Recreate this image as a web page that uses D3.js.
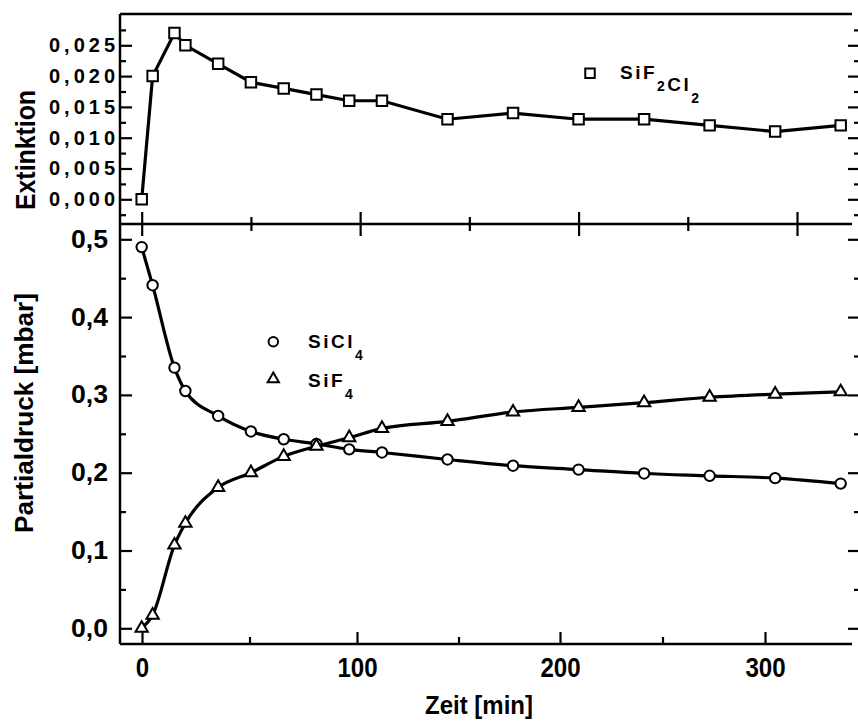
<!DOCTYPE html>
<html>
<head>
<meta charset="utf-8">
<script src="https://cdn.jsdelivr.net/npm/d3@7"></script>
<style>
  body { margin: 0; background: white; }
  text { font-family: "Liberation Sans", Arial, sans-serif; font-weight: bold; fill: black; }
</style>
</head>
<body>
<script>
const times   = [0, 5, 15, 20, 35, 50, 65, 80, 95, 110, 140, 170, 200, 230, 260, 290, 320]
const sif2cl2 = [0, 0.020, 0.027, 0.025, 0.022, 0.019, 0.018, 0.017, 0.016, 0.016, 0.013, 0.014, 0.013, 0.013, 0.012, 0.011, 0.012]
const sicl4   = [0.490, 0.441, 0.335, 0.305, 0.273, 0.253, 0.243, 0.237, 0.230, 0.226, 0.217, 0.209, 0.204, 0.199, 0.196, 0.193, 0.186]
const sif4    = [0.000, 0.017, 0.107, 0.135, 0.181, 0.200, 0.221, 0.234, 0.245, 0.257, 0.266, 0.278, 0.284, 0.290, 0.297, 0.301, 0.304]

const extTicks  = [0, 0.005, 0.010, 0.015, 0.020, 0.025]
const extMinor  = [-0.0025, 0.0025, 0.0075, 0.0125, 0.0175, 0.0225, 0.0275]
const pTicks    = [0, 0.1, 0.2, 0.3, 0.4, 0.5]
const pMinor    = [0.05, 0.15, 0.25, 0.35, 0.45]
const timeTicks = [0, 100, 200, 300]
const timeMinor = [50, 150, 250]
const midTicks  = [0, 50, 100, 150, 200, 250, 300]

const [width, height] = [858, 721]
const frame = { left: 120, right: 852, top: 14, mid: 224, bottom: 644 }

const de = d3.formatLocale({ decimal: ",", thousands: ".", grouping: [3], currency: ["", " €"] })

// Skalen
const x = d3.scaleLinear().domain([0, 300]).range([141.7, 797])
const xAxisScale = d3.scaleLinear().domain([0, 100, 200, 300]).range([142, 357, 560, 765]) // untere Achse wie im Original
const yExt = d3.scaleLinear().domain([0, 0.025]).range([199.3, 45.3])
const yP = d3.scaleLinear().domain([0, 0.5]).range([628.3, 239.3])

const svg = d3.select("body").append("svg")
    .attr("width", width)
    .attr("height", height)

// Rahmen
const frameG = svg.append("g").attr("stroke", "black").attr("stroke-width", 2.5)
frameG.append("line").attr("x1", frame.left).attr("x2", frame.left).attr("y1", frame.top).attr("y2", frame.bottom)
;[frame.top, frame.mid, frame.bottom].forEach(y => {
    frameG.append("line").attr("x1", frame.left).attr("x2", frame.right).attr("y1", y).attr("y2", y)
})

function styleAxis(g) {
    g.select(".domain").remove()
    g.selectAll(".tick line").attr("stroke", "black").attr("stroke-width", 2.2)
}

// linke Achse oben (Extinktion)
svg.append("g").attr("transform", `translate(${frame.left},0)`)
    .call(d3.axisLeft(yExt).tickValues(extTicks).tickSizeInner(-12).tickSizeOuter(0).tickPadding(5)
        .tickFormat(de.format(".3f")))
    .call(styleAxis)
    .selectAll("text")
        .attr("font-size", 20)
        .attr("textLength", 66)
        .attr("lengthAdjust", "spacing")
svg.append("g").attr("transform", `translate(${frame.left},0)`)
    .call(d3.axisLeft(yExt).tickValues(extMinor).tickSize(-6).tickFormat(""))
    .call(styleAxis)

// linke Achse unten (Partialdruck)
svg.append("g").attr("transform", `translate(${frame.left},0)`)
    .call(d3.axisLeft(yP).tickValues(pTicks).tickSizeInner(-12).tickSizeOuter(0).tickPadding(12)
        .tickFormat(de.format(".1f")))
    .call(styleAxis)
    .selectAll("text")
        .attr("font-size", 25)
        .attr("textLength", 37)
        .attr("lengthAdjust", "spacingAndGlyphs")
svg.append("g").attr("transform", `translate(${frame.left},0)`)
    .call(d3.axisLeft(yP).tickValues(pMinor).tickSize(-6).tickFormat(""))
    .call(styleAxis)

// rechte Seite: nur Ticks
;[[yExt, extTicks, extMinor], [yP, pTicks, pMinor]].forEach(([s, major, minor]) => {
    svg.append("g").attr("transform", `translate(${width},0)`)
        .call(d3.axisRight(s).tickValues(major).tickSize(-10).tickFormat(""))
        .call(styleAxis)
    svg.append("g").attr("transform", `translate(${width},0)`)
        .call(d3.axisRight(s).tickValues(minor).tickSize(-4).tickFormat(""))
        .call(styleAxis)
})

// Trennlinie: Ticks nach oben und unten
svg.append("g").attr("transform", `translate(0,${frame.mid})`)
    .call(d3.axisTop(x).tickValues(midTicks).tickSize(12).tickFormat(""))
    .call(styleAxis)
    .selectAll(".tick line").attr("y2", d => d % 100 === 0 ? -12 : -7)
svg.append("g").attr("transform", `translate(0,${frame.mid})`)
    .call(d3.axisBottom(x).tickValues(midTicks).tickSize(12).tickFormat(""))
    .call(styleAxis)
    .selectAll(".tick line").attr("y2", d => d % 100 === 0 ? 12 : 7)

// untere Zeitachse
svg.append("g").attr("transform", `translate(0,${frame.bottom})`)
    .call(d3.axisBottom(xAxisScale).tickValues(timeTicks).tickSizeInner(-12).tickSizeOuter(0).tickPadding(14))
    .call(styleAxis)
    .selectAll("text")
        .attr("font-size", 27)
        .attr("textLength", d => String(d).length * 13.4)
        .attr("lengthAdjust", "spacingAndGlyphs")
svg.append("g").attr("transform", `translate(0,${frame.bottom})`)
    .call(d3.axisBottom(xAxisScale).tickValues(timeMinor).tickSize(-7).tickFormat(""))
    .call(styleAxis)

// Achsentitel
svg.append("text")
    .attr("transform", "translate(35,150) rotate(-90)")
    .attr("text-anchor", "middle")
    .attr("font-size", 28)
    .attr("textLength", 120)
    .attr("lengthAdjust", "spacingAndGlyphs")
    .text("Extinktion")
svg.append("text")
    .attr("transform", "translate(33,413) rotate(-90)")
    .attr("text-anchor", "middle")
    .attr("font-size", 26)
    .attr("textLength", 240)
    .attr("lengthAdjust", "spacingAndGlyphs")
    .text("Partialdruck [mbar]")
svg.append("text")
    .attr("x", 479)
    .attr("y", 714)
    .attr("text-anchor", "middle")
    .attr("font-size", 26)
    .attr("textLength", 108)
    .attr("lengthAdjust", "spacingAndGlyphs")
    .text("Zeit [min]")

// Kurven
const series = [
    { values: sif2cl2, y: yExt, symbol: d3.symbolSquare, size: 110, curve: d3.curveLinear },
    { values: sicl4, y: yP, symbol: d3.symbolCircle, size: 85, curve: d3.curveMonotoneX },
    { values: sif4, y: yP, symbol: d3.symbolTriangle, size: 66, curve: d3.curveMonotoneX }
]

series.forEach(s => {
    const pts = times.map((t, i) => [t, s.values[i]])
    svg.append("path")
        .datum(pts)
        .attr("fill", "none")
        .attr("stroke", "black")
        .attr("stroke-width", 3.2)
        .attr("d", d3.line().x(d => x(d[0])).y(d => s.y(d[1])).curve(s.curve))
    svg.append("g")
        .selectAll("path")
        .data(pts)
        .enter()
        .append("path")
            .attr("transform", d => `translate(${x(d[0])},${s.y(d[1])})`)
            .attr("d", d3.symbol().type(s.symbol).size(s.size))
            .attr("fill", "white")
            .attr("stroke", "black")
            .attr("stroke-width", 2)
})

// Legenden
function legendItem(mx, my, symbol, size, tx, ty, parts) {
    svg.append("path")
        .attr("transform", `translate(${mx},${my})`)
        .attr("d", d3.symbol().type(symbol).size(size))
        .attr("fill", "white")
        .attr("stroke", "black")
        .attr("stroke-width", 2)
    const t = svg.append("text")
        .attr("x", tx)
        .attr("y", ty)
        .attr("font-size", 19)
        .attr("letter-spacing", 2.5)
    parts.forEach(([str, sub]) => {
        t.append("tspan")
            .attr("font-size", sub ? 14 : 19)
            .attr("dy", sub ? 12 : 0)
            .text(str)
        if (sub) t.append("tspan").attr("dy", -12).text("")
    })
}
legendItem(590, 73.3, d3.symbolSquare, 90, 620, 79.3, [["SiF"], ["2", true], ["Cl"], ["2", true]])
legendItem(273.3, 341.7, d3.symbolCircle, 70, 308, 348.3, [["SiCl"], ["4", true]])
legendItem(273.3, 379, d3.symbolTriangle, 55, 308, 386.7, [["SiF"], ["4", true]])
</script>
</body>
</html>
